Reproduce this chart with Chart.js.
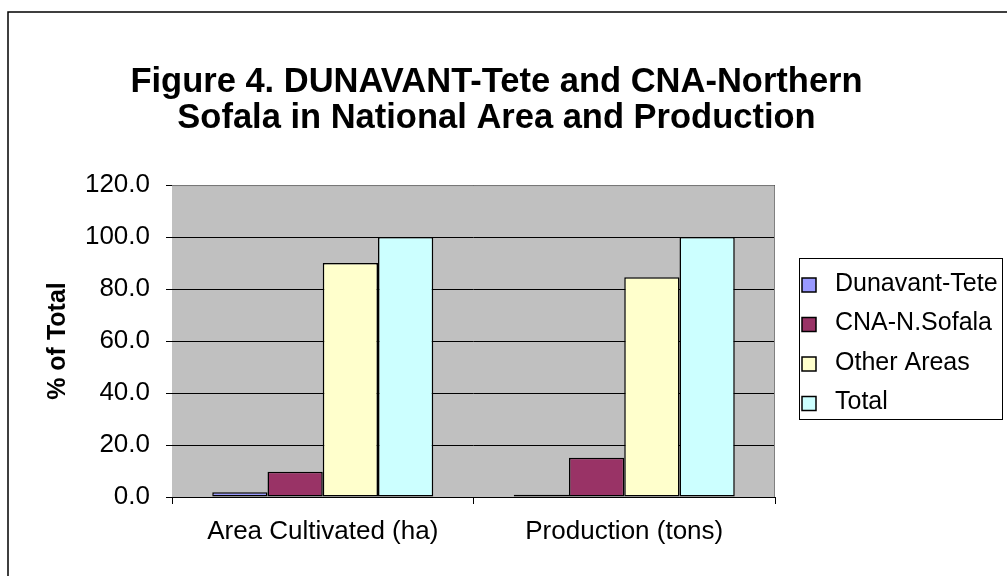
<!DOCTYPE html>
<html>
<head>
<meta charset="utf-8">
<script src="https://cdn.jsdelivr.net/npm/chart.js@4"></script>
<style>
  html, body { margin: 0; padding: 0; background: #fff; }
  #wrap { width: 1007px; height: 576px; }
</style>
</head>
<body>
<div id="wrap"><canvas id="chart" width="1007" height="576"></canvas></div>
<script>
  // Chart data
  const categories = ['Area Cultivated (ha)', 'Production (tons)'];
  const seriesNames = ['Dunavant-Tete', 'CNA-N.Sofala', 'Other Areas', 'Total'];
  const dunavantTete = [1.8, 0.9];
  const cnaSofala = [9.7, 15.1];
  const otherAreas = [90.0, 84.5];
  const totalShare = [100.0, 100.0];
  const yTicks = [0, 20, 40, 60, 80, 100, 120];
  const seriesColors = ['#9999FF', '#993366', '#FFFFCC', '#CCFFFF'];

  const font = 'Arial, "Liberation Sans", sans-serif';
  const seriesValues = [dunavantTete, cnaSofala, otherAreas, totalShare];

  // Gray plot area, frame and boxed legend (Excel look)
  const excelPlugin = {
    id: 'excelLook',
    beforeDatasetsDraw: function(chart) {
      const a = chart.chartArea;
      const ctx = chart.ctx;
      ctx.save();
      ctx.fillStyle = '#C0C0C0';
      ctx.fillRect(a.left, a.top, a.right - a.left, a.bottom - a.top);
      // gridlines over the fill
      const y = chart.scales.y;
      ctx.strokeStyle = '#000';
      ctx.lineWidth = 1;
      yTicks.forEach(function(t) {
        if (t === 0) return;
        const py = Math.round(y.getPixelForValue(t)) + 0.5;
        ctx.beginPath();
        ctx.moveTo(a.left, py);
        ctx.lineTo(a.right, py);
        ctx.stroke();
      });
      ctx.strokeStyle = '#808080';
      ctx.beginPath();
      ctx.moveTo(a.left, a.top + 0.5);
      ctx.lineTo(a.right - 0.5, a.top + 0.5);
      ctx.lineTo(a.right - 0.5, a.bottom);
      ctx.stroke();
      ctx.restore();
    },
    afterDraw: function(chart) {
      const ctx = chart.ctx;
      ctx.save();
      // outer chart frame (top and left visible)
      ctx.strokeStyle = '#000';
      ctx.lineWidth = 1.5;
      ctx.beginPath();
      ctx.moveTo(8, chart.height);
      ctx.lineTo(8, 12);
      ctx.lineTo(chart.width, 12);
      ctx.stroke();

      // legend box
      const lx = 799, ly = 258, lw = 203, lh = 161;
      ctx.lineWidth = 1;
      ctx.strokeStyle = '#000';
      ctx.fillStyle = '#fff';
      ctx.fillRect(lx, ly, lw, lh);
      ctx.strokeRect(lx + 0.5, ly + 0.5, lw, lh);
      ctx.font = '25px ' + font;
      ctx.textBaseline = 'middle';
      chart.data.datasets.forEach(function(ds, i) {
        const cy = ly + 26 + i * 39.5;
        ctx.fillStyle = ds.backgroundColor;
        ctx.fillRect(802, cy - 6, 14, 14);
        ctx.strokeStyle = '#000';
        ctx.lineWidth = 1.5;
        ctx.strokeRect(802, cy - 6, 14, 14);
        ctx.fillStyle = '#000';
        ctx.fillText(ds.label, 835, cy);
      });
      ctx.restore();
    }
  };

  const datasets = seriesNames.map(function(name, i) {
    return {
      label: name,
      data: seriesValues[i],
      backgroundColor: seriesColors[i],
      borderColor: '#000',
      borderWidth: 1.5,
      borderSkipped: false,
      barPercentage: 1.0,
      categoryPercentage: 0.733
    };
  });

  new Chart(document.getElementById('chart').getContext('2d'), {
    type: 'bar',
    data: {
      labels: categories,
      datasets: datasets
    },
    options: {
      responsive: false,
      animation: false,
      layout: {
        padding: { top: 0, left: 0, right: 14, bottom: 0 }
      },
      plugins: {
        legend: { display: false },
        tooltip: { enabled: false },
        title: {
          display: true,
          text: ['Figure 4. DUNAVANT-Tete and CNA-Northern', 'Sofala in National Area and Production'],
          color: '#000',
          font: { family: font, size: 34.5, weight: 'bold', lineHeight: 1.03 },
          padding: { top: 65, bottom: 49 }
        }
      },
      scales: {
        x: {
          afterFit: function(scale) { scale.height = 79; },
          grid: {
            offset: true,
            drawOnChartArea: false,
            drawTicks: true,
            tickLength: 7,
            color: '#000'
          },
          border: { color: '#000', width: 1 },
          ticks: {
            color: '#000',
            padding: 12,
            font: { family: font, size: 26 }
          }
        },
        y: {
          min: 0,
          max: 120,
          afterFit: function(scale) { scale.width = 172; },
          afterBuildTicks: function(scale) {
            scale.ticks = yTicks.map(function(v) { return { value: v }; });
          },
          grid: {
            drawOnChartArea: false,
            drawTicks: true,
            tickLength: 6,
            color: '#000'
          },
          border: { color: '#000', width: 1 },
          ticks: {
            color: '#000',
            padding: 16,
            font: { family: font, size: 26 },
            callback: function(value) { return Number(value).toFixed(1); }
          },
          title: {
            display: true,
            text: '% of Total',
            color: '#000',
            font: { family: font, size: 25, weight: 'bold' },
            padding: { top: 43, bottom: 0 }
          }
        },
        // empty right-hand space that holds the legend box
        yRight: {
          position: 'right',
          display: true,
          afterFit: function(scale) { scale.width = 218; },
          grid: { display: false, drawTicks: false },
          border: { display: false },
          ticks: { display: false }
        }
      }
    },
    plugins: [excelPlugin]
  });
</script>
</body>
</html>
